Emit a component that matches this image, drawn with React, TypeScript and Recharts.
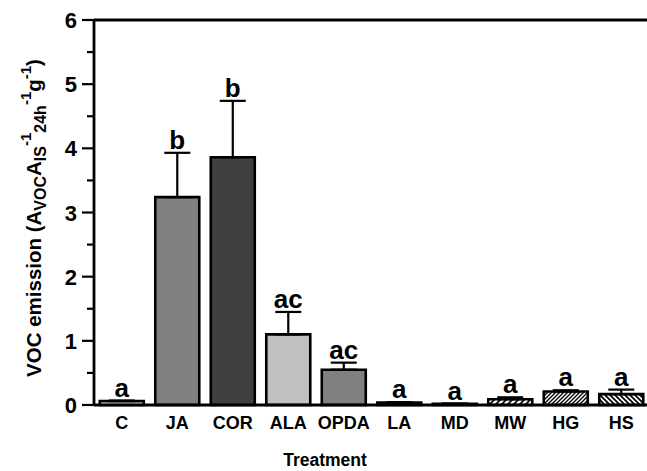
import React from "react"
import {
  ComposedChart,
  Bar,
  Line,
  Cell,
  XAxis,
  YAxis,
  ErrorBar,
  LabelList,
  ReferenceLine,
} from "recharts"

const categories = ["C", "JA", "COR", "ALA", "OPDA", "LA", "MD", "MW", "HG", "HS"]
const means = [0.06, 3.24, 3.86, 1.1, 0.55, 0.04, 0.02, 0.09, 0.21, 0.17]
const sem = [0.01, 0.69, 0.88, 0.35, 0.11, 0, 0, 0.03, 0.02, 0.07]
const letters = ["a", "b", "b", "ac", "ac", "a", "a", "a", "a", "a"]
const yTicks = [0, 0.5, 1, 1.5, 2, 2.5, 3, 3.5, 4, 4.5, 5, 5.5, 6]

const fills = [
  "#ffffff",
  "#808080",
  "#404040",
  "#c0c0c0",
  "#808080",
  "#404040",
  "#404040",
  "url(#hatchMW)",
  "url(#hatchHG)",
  "url(#hatchHS)",
]

const data = categories.map((name, i) => ({
  name,
  value: means[i],
  err: [0, sem[i]],
  top: means[i] + sem[i],
  letter: letters[i],
}))

const FONT = "Arial, 'Liberation Sans', sans-serif"

const YTick = (props: any) => {
  const { x, y, payload } = props
  const major = Number.isInteger(payload.value)
  const len = major ? 12 : 7
  return (
    <g>
      <line x1={x - len} x2={x} y1={y} y2={y} stroke="#000" strokeWidth={2.2} />
      {major && (
        <text
          x={x - 17}
          y={y}
          dy={8}
          textAnchor="end"
          fontFamily={FONT}
          fontWeight="bold"
          fontSize={22}
          fill="#000"
        >
          {payload.value}
        </text>
      )}
    </g>
  )
}

// rotated axis title with sub/superscripts
const YTitle = () => (
  <text
    transform="translate(41,218) rotate(-90)"
    textAnchor="middle"
    fontFamily={FONT}
    fontWeight="bold"
    fontSize={20.5}
    fill="#000"
  >
    VOC emission (A
    <tspan fontSize={16} dy={5}>VOC</tspan>
    <tspan dy={-5}>A</tspan>
    <tspan fontSize={16} dy={5}>IS</tspan>
    <tspan fontSize={15} dy={-15}>-1</tspan>
    <tspan fontSize={16} dy={15}>24h</tspan>
    <tspan fontSize={15} dy={-15}>-1</tspan>
    <tspan dy={10}>g</tspan>
    <tspan fontSize={15} dy={-10}>-1</tspan>
    <tspan dy={10}>)</tspan>
  </text>
)

const XTitle = () => (
  <text
    x={325}
    y={466}
    textAnchor="middle"
    fontFamily={FONT}
    fontWeight="bold"
    fontSize={17.5}
    fill="#000"
  >
    Treatment
  </text>
)

export default function App() {
  return (
    <div
      style={{
        position: "absolute",
        left: 0,
        top: 0,
        width: 647,
        height: 471,
        overflow: "hidden",
        background: "#fff",
      }}
    >
      <ComposedChart
        width={660}
        height={471}
        data={data}
        margin={{ top: 20, right: 11, bottom: 36, left: 38 }}
        barCategoryGap="10.4%"
      >
        <defs>
          <pattern id="hatchMW" patternUnits="userSpaceOnUse" width={6} height={6}>
            <rect width={6} height={6} fill="#fff" />
            <path d="M-1,1 l2,-2 M0,6 l6,-6 M5,7 l2,-2" stroke="#000" strokeWidth={1.6} />
          </pattern>
          <pattern id="hatchHG" patternUnits="userSpaceOnUse" width={4} height={4}>
            <rect width={4} height={4} fill="#fff" />
            <path d="M-1,1 l2,-2 M0,4 l4,-4 M3,5 l2,-2" stroke="#000" strokeWidth={1.3} />
          </pattern>
          <pattern id="hatchHS" patternUnits="userSpaceOnUse" width={5} height={5}>
            <rect width={5} height={5} fill="#fff" />
            <path d="M-1,4 l2,2 M0,0 l5,5 M4,-1 l2,2" stroke="#000" strokeWidth={1.8} />
          </pattern>
        </defs>
        <XAxis
          dataKey="name"
          interval={0}
          tickLine={false}
          axisLine={{ stroke: "#000", strokeWidth: 2.8 }}
          tick={{ fill: "#000", fontFamily: FONT, fontWeight: "bold", fontSize: 18 }}
          tickMargin={5}
          height={30}
          label={{ content: () => <XTitle /> }}
        />
        <YAxis
          domain={[0, 6]}
          ticks={yTicks}
          interval={0}
          width={56}
          tickSize={0}
          tickMargin={0}
          tickLine={false}
          axisLine={{ stroke: "#000", strokeWidth: 2.8 }}
          tick={<YTick />}
          label={{ content: () => <YTitle /> }}
        />
        <ReferenceLine y={6} stroke="#000" strokeWidth={2.8} ifOverflow="visible" />
        <Bar dataKey="value" stroke="#000" strokeWidth={2.6} isAnimationActive={false}>
          {data.map((_, i) => (
            <Cell key={`cell-${i}`} fill={fills[i]} />
          ))}
          <ErrorBar dataKey="err" width={13} stroke="#000" strokeWidth={2.2} direction="y" />
        </Bar>
        <Line
          dataKey="top"
          stroke="none"
          dot={false}
          activeDot={false}
          isAnimationActive={false}
        >
          <LabelList
            dataKey="letter"
            position="top"
            offset={4}
            fill="#000"
            fontFamily={FONT}
            fontWeight="bold"
            fontSize={26}
          />
        </Line>
      </ComposedChart>
    </div>
  )
}
